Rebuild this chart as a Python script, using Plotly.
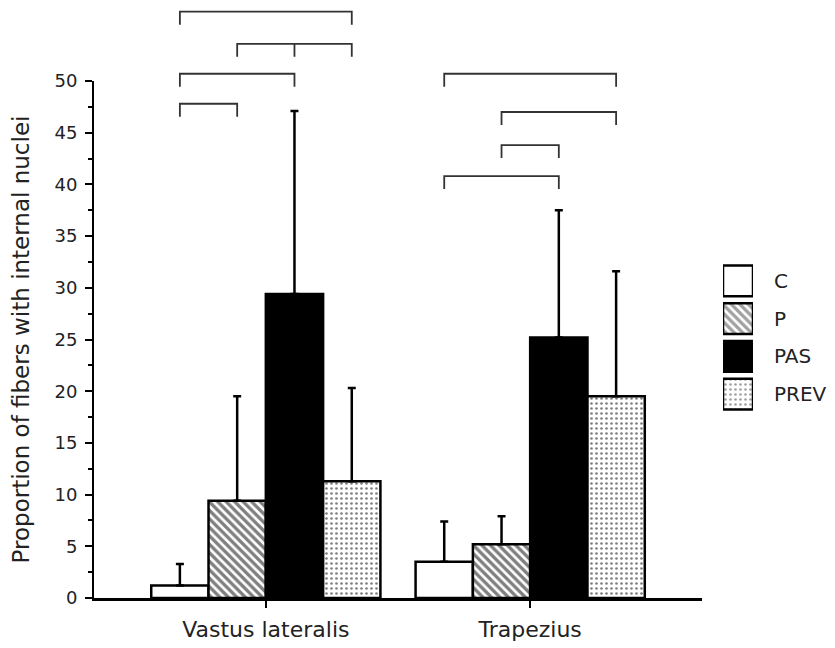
import plotly.graph_objects as go

# ---------------- data ----------------
muscles = ["Vastus lateralis", "Trapezius"]
groups = ["C", "P", "PAS", "PREV"]
c_mean = [1.2, 3.5]
c_sd = [2.1, 3.9]
p_mean = [9.4, 5.2]
p_sd = [10.1, 2.7]
pas_mean = [29.4, 25.2]
pas_sd = [17.7, 12.3]
prev_mean = [11.3, 19.5]
prev_sd = [9.0, 12.1]
y_ticks = [0, 5, 10, 15, 20, 25, 30, 35, 40, 45, 50]

# significance brackets: (muscle index, bars joined, level on y scale)
brackets = [
    (0, [0, 3], 56.7),
    (0, [1, 2, 3], 53.6),
    (0, [0, 2], 50.7),
    (0, [0, 1], 47.8),
    (1, [0, 3], 50.7),
    (1, [1, 3], 47.0),
    (1, [1, 2], 43.8),
    (1, [0, 2], 40.8),
]

# ---------------- styling ----------------
FONT = "DejaVu Sans"
OFF = 8  # page body margin of the browser
W, H = 835, 648
ML, MR, MT, MB = 94 - OFF, 45, 0, 648 - 598 + OFF
PW, PH = W - ML - MR, H - MT - MB
BARGAP = 0.133
XR = [-0.65, 1.65]
YR = [0, 50]
X_DOM = [0, (702 - OFF - ML) / PW]
Y_DOM = [0, (598 - 81) / PH]

means = [c_mean, p_mean, pas_mean, prev_mean]
sds = [c_sd, p_sd, pas_sd, prev_sd]
fills = ["white", "white", "black", "white"]
patterns = ["", "\\", "", "."]
psize = [6, 6, 6, 5]
psolid = [0.3, 0.55, 0.3, 0.22]

fig = go.Figure()
for i, (g, m, s) in enumerate(zip(groups, means, sds)):
    fig.add_trace(go.Bar(
        name=g, x=muscles, y=m,
        marker=dict(color=fills[i], line=dict(color="black", width=2.5),
                    pattern=dict(shape=patterns[i], fgcolor="black",
                                 bgcolor=fills[i], size=psize[i],
                                 solidity=psolid[i])),
        error_y=dict(type="data", symmetric=False, array=s,
                     arrayminus=[0] * len(s), color="black",
                     thickness=2.5, width=4),
        showlegend=False,
    ))

# legend drawn as a small bar subplot so the swatches are large
fig.add_trace(go.Bar(
    x=[1] * len(groups), y=groups, orientation="h",
    xaxis="x2", yaxis="y2", showlegend=False, hoverinfo="skip",
    marker=dict(color=fills, line=dict(color="black", width=2.5),
                pattern=dict(shape=patterns, fgcolor="black", bgcolor=fills,
                             size=psize, solidity=psolid)),
    width=0.82,
))

# brackets in paper coordinates derived from data positions
bw = (1 - BARGAP) / len(groups)


def px_x(xd):
    return X_DOM[0] + (xd - XR[0]) / (XR[1] - XR[0]) * (X_DOM[1] - X_DOM[0])


def px_y(yd):
    return Y_DOM[0] + (yd - YR[0]) / (YR[1] - YR[0]) * (Y_DOM[1] - Y_DOM[0])


TICK = 1.25
for mi, bars, lvl in brackets:
    xs = [px_x(mi + (b - 1.5) * bw) for b in bars]
    yt, yb = px_y(lvl), px_y(lvl - TICK)
    path = f"M{xs[0]},{yb} L{xs[0]},{yt} L{xs[-1]},{yt} L{xs[-1]},{yb}"
    for xm in xs[1:-1]:
        path += f" M{xm},{yt} L{xm},{yb}"
    fig.add_shape(type="path", path=path, xref="paper", yref="paper",
                  line=dict(color="#333333", width=1.8))

fig.update_layout(
    width=W, height=H,
    margin=dict(l=ML, r=MR, t=MT, b=MB, autoexpand=False),
    paper_bgcolor="white", plot_bgcolor="white",
    barmode="group", bargap=BARGAP, bargroupgap=0,
    font=dict(family=FONT, size=17, color="#222222"),
    xaxis=dict(domain=X_DOM, range=XR, type="category", automargin=False,
               showline=True, linecolor="black", linewidth=2.5,
               ticks="outside", ticklen=7, tickwidth=2, tickcolor="black",
               showgrid=False, zeroline=False, ticklabelstandoff=3,
               tickfont=dict(size=22, color="#222222")),
    yaxis=dict(domain=Y_DOM, range=YR, tickvals=y_ticks, automargin=False,
               showline=True, linecolor="black", linewidth=2,
               ticks="outside", ticklen=7, tickwidth=2, tickcolor="black",
               minor=dict(dtick=2.5, ticks="outside", ticklen=4,
                          tickwidth=1.5, tickcolor="black"),
               showgrid=False, zeroline=False, ticklabelstandoff=4,
               tickfont=dict(size=18, color="#222222"),
               title=dict(text="Proportion of fibers with internal nuclei",
                          font=dict(size=23, color="#222222"), standoff=19)),
    xaxis2=dict(domain=[(723 - OFF - ML) / PW, (753 - OFF - ML) / PW],
                range=[0, 1], visible=False, anchor="y2", fixedrange=True),
    yaxis2=dict(domain=[(598 - 413) / PH, (598 - 262) / PH],
                anchor="x2", side="right", autorange="reversed", automargin=False,
                showline=False, showgrid=False, zeroline=False, ticks="",
                ticklabelstandoff=20, tickfont=dict(size=20, color="#222222")),
)

fig.write_html("out.html")
